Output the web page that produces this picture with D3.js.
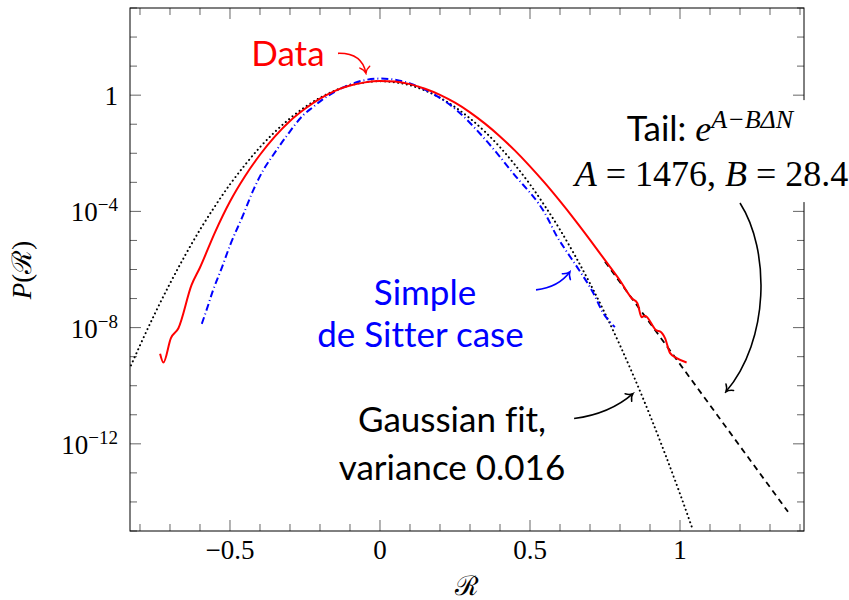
<!doctype html>
<meta charset="utf-8">
<title>P(R) distribution</title>
<script src="https://cdn.jsdelivr.net/npm/d3@7"></script>
<style>
  body { margin: 0; background: #fff; }
  .tick-label { font-family: "Liberation Serif", "DejaVu Serif", serif; font-size: 27px; fill: #000; }
  .note { font-family: Lato, "Open Sans", sans-serif; font-size: 35px; font-variant-ligatures: none; }
  .math { font-family: "Liberation Serif", "DejaVu Serif", serif; }
</style>
<body>
<svg id="chart" width="849" height="600"></svg>
<script>

// x-axis ticks
var xMajor = [-0.5, 0, 0.5, 1];
var xMajorLabels = ["\u22120.5", "0", "0.5", "1"];
var xMinor = [-0.8, -0.7, -0.6, -0.4, -0.3, -0.2, -0.1, 0.1, 0.2, 0.3, 0.4, 0.6, 0.7, 0.8, 0.9, 1.1, 1.2, 1.3, 1.4];

// y-axis ticks (powers of ten)
var yMajorExp = [0, -4, -8, -12];
var yMinorExp = [3, 2, 1, -1, -2, -3, -5, -6, -7, -9, -10, -11, -13, -14, -15];

// Gaussian fit (dotted), log10 P
var gaussR   = [-0.83, -0.8, -0.75, -0.7, -0.65, -0.6, -0.55, -0.5, -0.45, -0.4, -0.35, -0.3, -0.25, -0.2, -0.15, -0.1, -0.05, 0,
                0.05, 0.1, 0.15, 0.2, 0.25, 0.3, 0.35, 0.4, 0.45, 0.5, 0.55, 0.6, 0.65, 0.7, 0.75, 0.8, 0.85, 0.9, 0.95, 1.0, 1.04];
var gaussLog = [-9.30, -8.61, -7.51, -6.48, -5.52, -4.63, -3.82, -3.07, -2.40, -1.79, -1.26, -0.80, -0.41, -0.09, 0.16, 0.34, 0.44, 0.48,
                0.44, 0.34, 0.16, -0.09, -0.41, -0.80, -1.26, -1.79, -2.40, -3.07, -3.82, -4.63, -5.52, -6.48, -7.51, -8.61, -9.78, -11.02, -12.34, -13.72, -14.88];

// Data (red)
var dataR   = [-0.733, -0.722, -0.697, -0.672, -0.628, -0.6, -0.55, -0.5, -0.45, -0.4, -0.35, -0.3, -0.25, -0.2, -0.15, -0.1, -0.05, 0,
               0.05, 0.1, 0.15, 0.2, 0.25, 0.3, 0.35, 0.4, 0.45, 0.5, 0.55, 0.6, 0.65, 0.7, 0.75, 0.8, 0.839, 0.858, 0.872, 0.883, 0.922, 0.933, 0.95, 0.967, 0.989, 1.022];
var dataLog = [-8.90, -9.20, -8.36, -8.02, -6.53, -5.93, -4.72, -3.66, -2.79, -2.05, -1.42, -0.89, -0.47, -0.12, 0.15, 0.33, 0.44, 0.49,
               0.47, 0.38, 0.22, 0.01, -0.26, -0.59, -0.98, -1.42, -1.91, -2.45, -3.03, -3.65, -4.30, -4.98, -5.68, -6.38, -6.99, -7.16, -7.64, -7.59, -8.10, -8.13, -8.36, -8.88, -9.05, -9.20];

// Simple de Sitter case (blue dash-dot)
var dsR   = [-0.594, -0.578, -0.556, -0.528, -0.5, -0.456, -0.422, -0.389, -0.356, -0.311, -0.256, -0.222, -0.194, -0.15, -0.111, -0.05, 0,
             0.044, 0.1, 0.167, 0.256, 0.333, 0.444, 0.556, 0.589, 0.611, 0.656, 0.711, 0.744, 0.783];
var dsLog = [-7.87, -7.39, -6.70, -5.96, -5.17, -4.12, -3.26, -2.58, -2.06, -1.40, -0.69, -0.40, -0.17, 0.12, 0.32, 0.52, 0.57,
             0.54, 0.40, 0.10, -0.52, -1.32, -2.69, -4.18, -4.85, -5.21, -5.90, -6.81, -7.50, -7.98];

// exponential tail (black dashed)
var tailR   = [0.75, 1.36];
var tailLog = [-5.73, -14.34];

function draw() {

var svg = d3.select("#chart");
var left = 130, right = 804, top = 8, bottom = 531;

var x = d3.scaleLinear().domain([-0.8333, 1.4133]).range([left, right]);
var y = d3.scaleLog().domain([1e-15, 1e3]).range([bottom, top]);
var ly = function(e) { return y(Math.pow(10, e)); };

function zip(a, b) { return a.map(function(v, i) { return [v, b[i]]; }); }

// clip
svg.append("clipPath").attr("id", "clip")
  .append("rect").attr("x", left).attr("y", top).attr("width", right - left).attr("height", bottom - top);

// arrow markers
var defs = svg.append("defs");
[["red", "red"], ["blue", "blue"], ["black", "black"]].forEach(function(m) {
  defs.append("marker")
    .attr("id", "arr-" + m[0])
    .attr("viewBox", "-8 -7 10 14")
    .attr("markerWidth", 10).attr("markerHeight", 14)
    .attr("markerUnits", "userSpaceOnUse")
    .attr("refX", 0).attr("refY", 0)
    .attr("orient", "auto")
    .append("path")
      .attr("d", "M-6,-5 C-4,-1.8 -1.8,-0.5 0,0 C-1.8,0.5 -4,1.8 -6,5")
      .attr("fill", "none").attr("stroke", m[1]).attr("stroke-width", 1.5).attr("stroke-linecap", "round");
});

// ticks
var ticks = svg.append("g").attr("stroke", "#666").attr("stroke-width", 1);
ticks.selectAll(".xb").data(xMajor.concat(xMinor)).enter().append("line")
  .attr("x1", function(d) { return x(d); }).attr("x2", function(d) { return x(d); })
  .attr("y1", bottom).attr("y2", function(d) { return bottom - (xMajor.indexOf(d) >= 0 ? 11 : 7); });
ticks.selectAll(".xt").data(xMajor.concat(xMinor)).enter().append("line")
  .attr("x1", function(d) { return x(d); }).attr("x2", function(d) { return x(d); })
  .attr("y1", top).attr("y2", function(d) { return top + (xMajor.indexOf(d) >= 0 ? 11 : 7); });
ticks.selectAll(".yl").data(yMajorExp.concat(yMinorExp)).enter().append("line")
  .attr("y1", function(d) { return ly(d); }).attr("y2", function(d) { return ly(d); })
  .attr("x1", left).attr("x2", function(d) { return left + (yMajorExp.indexOf(d) >= 0 ? 11 : 7); });
ticks.selectAll(".yr").data(yMajorExp.concat(yMinorExp)).enter().append("line")
  .attr("y1", function(d) { return ly(d); }).attr("y2", function(d) { return ly(d); })
  .attr("x1", right).attr("x2", function(d) { return right - (yMajorExp.indexOf(d) >= 0 ? 11 : 7); });

// frame
svg.append("rect").attr("x", left).attr("y", top).attr("width", right - left).attr("height", bottom - top)
  .attr("fill", "none").attr("stroke", "#000").attr("stroke-width", 1);

// tick labels
svg.selectAll(".xlab").data(xMajor).enter().append("text")
  .attr("class", "tick-label")
  .attr("x", function(d) { return x(d); }).attr("y", 559)
  .attr("text-anchor", "middle")
  .text(function(d, i) { return xMajorLabels[i]; });

svg.selectAll(".ylab").data(yMajorExp).enter().append("text")
  .attr("class", "tick-label")
  .attr("x", 118).attr("y", function(d) { return ly(d) + 10; })
  .attr("text-anchor", "end")
  .each(function(d) {
    var t = d3.select(this);
    if (d === 0) { t.text("1"); return; }
    t.append("tspan").text("10");
    t.append("tspan").attr("dy", -10).attr("font-size", 19).text("\u2212" + (-d));
  });

// axis labels
svg.append("text").attr("class", "tick-label")
  .attr("x", (left + right) / 2).attr("y", 595).attr("text-anchor", "middle")
  .text("\u211B");
var yl = svg.append("text").attr("class", "tick-label")
  .attr("transform", "translate(31,270) rotate(-90)").attr("text-anchor", "middle");
yl.append("tspan").attr("font-style", "italic").text("P");
yl.append("tspan").text("(\u211B)");

// curves
var line = d3.line()
  .x(function(d) { return x(d[0]); })
  .y(function(d) { return ly(d[1]); })
  .curve(d3.curveMonotoneX);

var plot = svg.append("g").attr("clip-path", "url(#clip)").attr("fill", "none");

plot.append("path").datum(zip(gaussR, gaussLog)).attr("d", line)
  .attr("stroke", "#000").attr("stroke-width", 2).attr("stroke-dasharray", "0.1,4.3").attr("stroke-linecap", "round");

plot.append("path").datum(zip(dsR, dsLog)).attr("d", line)
  .attr("stroke", "blue").attr("stroke-width", 2).attr("stroke-dasharray", "7,3,1,3");

plot.append("path").datum(zip(tailR, tailLog)).attr("d", d3.line().x(function(d) { return x(d[0]); }).y(function(d) { return ly(d[1]); }))
  .attr("stroke", "#000").attr("stroke-width", 1.8).attr("stroke-dasharray", "6,4.5");

plot.append("path").datum(zip(dataR, dataLog)).attr("d", line)
  .attr("stroke", "red").attr("stroke-width", 2).attr("stroke-linejoin", "round");

// annotations (positions in data coordinates)
function P(r, e) { return x(r) + "," + ly(e); }

// Data
svg.append("text").attr("class", "note").attr("fill", "red")
  .attr("x", x(-0.307)).attr("y", ly(1.0)).attr("text-anchor", "middle").text("Data");
svg.append("path").attr("d", "M" + P(-0.14, 1.44) + " Q" + P(-0.06, 1.46) + " " + P(-0.047, 0.76))
  .attr("fill", "none").attr("stroke", "red").attr("stroke-width", 1.6).attr("marker-end", "url(#arr-red)");

// Tail label with white background
svg.append("rect").attr("x", x(0.633)).attr("y", ly(-0.17)).attr("width", 849 - x(0.633)).attr("height", ly(-3.68) - ly(-0.17))
  .attr("fill", "#fff");
var t1 = svg.append("text").attr("x", x(1.1)).attr("y", ly(-1.57)).attr("text-anchor", "middle");
t1.append("tspan").attr("class", "note").text("Tail: ");
t1.append("tspan").attr("class", "math").attr("font-size", 36).attr("font-style", "italic").text("e");
var sup = t1.append("tspan").attr("class", "math").attr("font-size", 26).attr("font-style", "italic").attr("dy", -13);
sup.text("A\u2212B\u0394N");
var t2 = svg.append("text").attr("class", "math").attr("font-size", 36)
  .attr("x", x(1.105)).attr("y", ly(-3.13)).attr("text-anchor", "middle");
t2.append("tspan").attr("font-style", "italic").text("A");
t2.append("tspan").text(" = 1476, ");
t2.append("tspan").attr("font-style", "italic").text("B");
t2.append("tspan").text(" = 28.4");
svg.append("path").attr("d", "M" + P(1.2, -3.71) + " C" + P(1.3, -5.33) + " " + P(1.3, -8.42) + " " + P(1.153, -10.21))
  .attr("fill", "none").attr("stroke", "#000").attr("stroke-width", 1.6).attr("marker-end", "url(#arr-black)");

// Simple de Sitter case
svg.append("text").attr("class", "note").attr("fill", "blue")
  .attr("x", x(0.15)).attr("y", ly(-7.22)).attr("text-anchor", "middle").text("Simple");
svg.append("text").attr("class", "note").attr("fill", "blue")
  .attr("x", x(0.135)).attr("y", ly(-8.66)).attr("text-anchor", "middle").text("de Sitter case");
svg.append("path").attr("d", "M" + P(0.52, -6.70) + " Q" + P(0.595, -6.62) + " " + P(0.633, -6.08))
  .attr("fill", "none").attr("stroke", "blue").attr("stroke-width", 1.6).attr("marker-end", "url(#arr-blue)");

// Gaussian fit
svg.append("text").attr("class", "note").attr("fill", "#000")
  .attr("x", x(0.24)).attr("y", ly(-11.60)).attr("text-anchor", "middle").text("Gaussian fit,");
svg.append("text").attr("class", "note").attr("fill", "#000")
  .attr("x", x(0.24)).attr("y", ly(-13.23)).attr("text-anchor", "middle").text("variance 0.016");
svg.append("path").attr("d", "M" + P(0.647, -11.13) + " Q" + P(0.767, -10.96) + " " + P(0.843, -10.27))
  .attr("fill", "none").attr("stroke", "#000").attr("stroke-width", 1.6).attr("marker-end", "url(#arr-black)");

}

draw();

</script>
</body>
